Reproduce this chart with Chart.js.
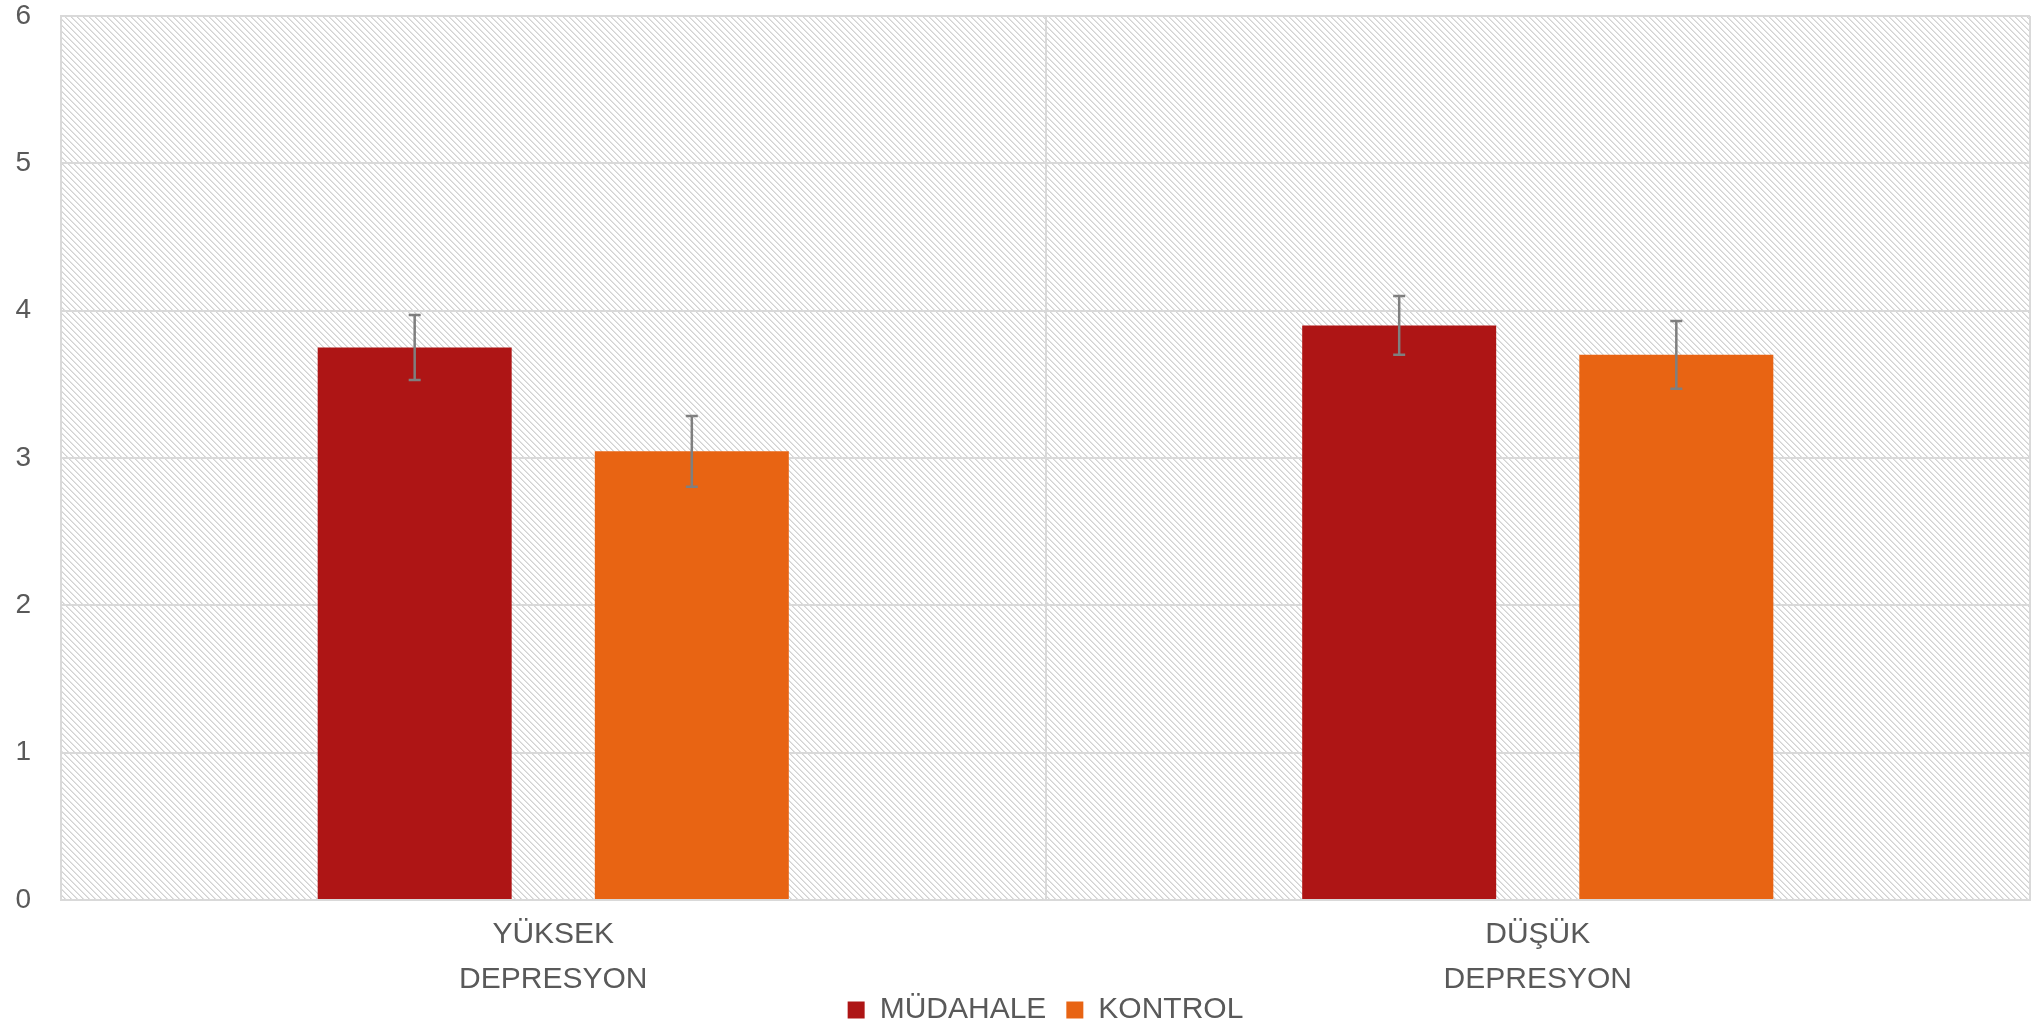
<!DOCTYPE html>
<html>
<head>
<meta charset="utf-8">
<script src="https://cdn.jsdelivr.net/npm/chart.js@4.4.1/dist/chart.umd.min.js"></script>
<style>
  html, body { margin: 0; padding: 0; background: #fff; }
  #wrap { width: 2031px; height: 1026px; }
</style>
</head>
<body>
<div id="wrap"><canvas id="depChart"></canvas></div>
<script>
// chart data
const categories = [['YÜKSEK', 'DEPRESYON'], ['DÜŞÜK', 'DEPRESYON']];
const seriesNames = ['MÜDAHALE', 'KONTROL'];
const mudahaleValues = [3.75, 3.9];
const kontrolValues = [3.045, 3.7];
const mudahaleErrors = [0.22, 0.2];
const kontrolErrors = [0.24, 0.23];
const yTicks = [0, 1, 2, 3, 4, 5, 6];

const textColor = '#595959';
const gridColor = '#d9d9d9';
const fontFamily = "'Liberation Sans', Arial, sans-serif";

// hatch pattern for the plot background
function makeHatch() {
  const tile = document.createElement('canvas');
  tile.width = 6;
  tile.height = 6;
  const t = tile.getContext('2d');
  t.fillStyle = '#ffffff';
  t.fillRect(0, 0, 6, 6);
  t.fillStyle = '#d2d2d2';
  for (let i = 0; i < 6; i += 1) {
    t.fillRect(i, i, 1, 1);
  }
  t.fillStyle = '#e4e4e4';
  for (let i = 0; i < 6; i += 1) {
    t.fillRect((i + 1) % 6, i, 1, 1);
  }
  return tile;
}

const hatchBackground = {
  id: 'hatchBackground',
  beforeDraw(chart) {
    const { ctx, chartArea } = chart;
    ctx.save();
    ctx.fillStyle = ctx.createPattern(makeHatch(), 'repeat');
    ctx.fillRect(chartArea.left, chartArea.top, chartArea.right - chartArea.left, chartArea.bottom - chartArea.top);
    ctx.restore();
  }
};

// let the two-line category labels run below the x axis box without clipping
const labelRoom = {
  id: 'labelRoom',
  afterLayout(chart) {
    chart.scales.x.bottom = chart.height;
  }
};

const errorBars = {
  id: 'errorBars',
  afterDatasetsDraw(chart) {
    const { ctx } = chart;
    const yScale = chart.scales.y;
    ctx.save();
    ctx.strokeStyle = '#7f7f7f';
    ctx.lineWidth = 2.5;
    chart.data.datasets.forEach((ds, di) => {
      const meta = chart.getDatasetMeta(di);
      meta.data.forEach((bar, i) => {
        const v = ds.data[i];
        const e = ds.errors[i];
        const top = yScale.getPixelForValue(v + e);
        const bottom = yScale.getPixelForValue(v - e);
        const x = bar.x;
        ctx.beginPath();
        ctx.moveTo(x, top);
        ctx.lineTo(x, bottom);
        ctx.moveTo(x - 6, top);
        ctx.lineTo(x + 6, top);
        ctx.moveTo(x - 6, bottom);
        ctx.lineTo(x + 6, bottom);
        ctx.stroke();
      });
    });
    ctx.restore();
  }
};

const ctx = document.getElementById('depChart').getContext('2d');
new Chart(ctx, {
  type: 'bar',
  data: {
    labels: categories,
    datasets: [
      {
        label: seriesNames[0],
        data: mudahaleValues,
        errors: mudahaleErrors,
        backgroundColor: '#ae1515'
      },
      {
        label: seriesNames[1],
        data: kontrolValues,
        errors: kontrolErrors,
        backgroundColor: '#e86413'
      }
    ]
  },
  options: {
    responsive: true,
    maintainAspectRatio: false,
    animation: false,
    categoryPercentage: 0.563,
    barPercentage: 0.7,
    layout: {
      padding: { top: 16, right: 1, left: 0, bottom: -9 }
    },
    scales: {
      x: {
        grid: { color: gridColor, lineWidth: 2, drawTicks: false, offset: true },
        border: { color: gridColor, width: 2 },
        ticks: {
          color: textColor,
          padding: 12,
          font: { family: fontFamily, size: 30, lineHeight: 1.5 }
        },
        afterFit: (scale) => {
          scale.height = 75;
          scale.paddingLeft = 0;
          scale.paddingRight = 0;
        }
      },
      y: {
        min: 0,
        max: 6,
        afterBuildTicks: (scale) => { scale.ticks = yTicks.map(v => ({ value: v })); },
        grid: { color: gridColor, lineWidth: 2, drawTicks: false },
        border: { color: gridColor, width: 2 },
        ticks: {
          color: textColor,
          padding: 30,
          font: { family: fontFamily, size: 28 }
        },
        afterFit: (scale) => {
          scale.width = 61;
          scale.paddingTop = 0;
          scale.paddingBottom = 0;
        }
      }
    },
    plugins: {
      legend: {
        position: 'bottom',
        fullSize: false,
        labels: {
          color: textColor,
          boxWidth: 17,
          boxHeight: 17,
          padding: 20,
          font: { family: fontFamily, size: 30 }
        }
      },
      tooltip: { enabled: false }
    }
  },
  plugins: [hatchBackground, labelRoom, errorBars]
});
</script>
</body>
</html>
